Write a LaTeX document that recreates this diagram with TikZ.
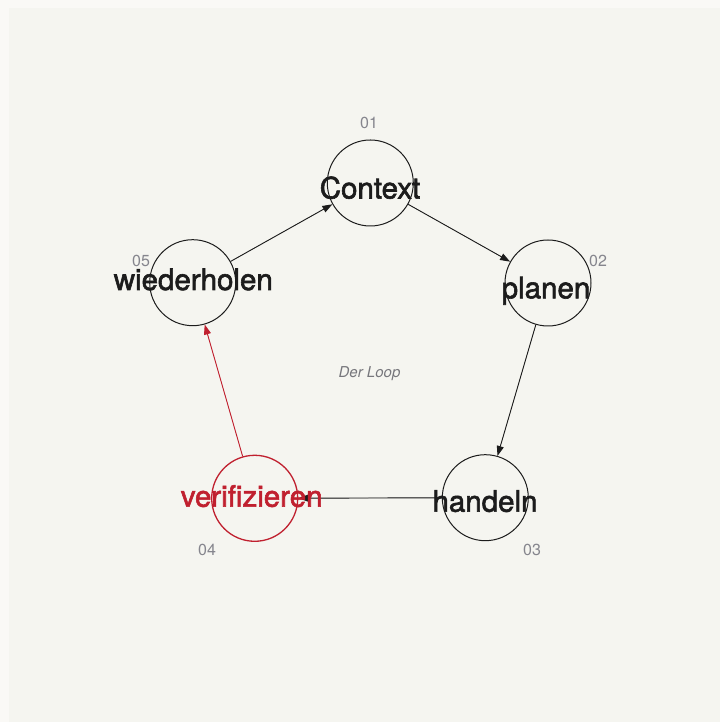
\documentclass[tikz,border=0pt]{standalone}
\usepackage{fontspec}
\setmainfont{TeX Gyre Heros}
\newfontfamily\stagefont[FakeBold=2]{TeX Gyre Heros}
\usetikzlibrary{arrows.meta}
\definecolor{outerbg}{HTML}{FAF9F6}
\definecolor{innerbg}{HTML}{F5F5F0}
\definecolor{ink}{HTML}{1C1C1C}
\definecolor{loopred}{HTML}{C0202F}
\definecolor{numgray}{HTML}{85858D}
\definecolor{capgray}{HTML}{77777C}
\tikzset{
  stage/.style={circle,draw=ink,line width=1pt,minimum size=86pt,inner sep=0pt},
  stagered/.style={stage,draw=loopred,line width=1.3pt},
  stagetext/.style={anchor=base,inner sep=0pt,text=ink,font=\stagefont\fontsize{29.5}{29.5}\selectfont},
  num/.style={inner sep=0pt,text=numgray,font=\fontsize{16}{16}\selectfont},
  flow/.style={draw=ink,line width=0.9pt,-{Triangle[length=10pt,width=7pt]}},
  flowred/.style={flow,draw=loopred,fill=loopred},
}
\begin{document}
\begin{tikzpicture}[x=1pt,y=1pt]
\useasboundingbox (0,0) rectangle (720,722);
\fill[outerbg] (0,0) rectangle (720,722);
\fill[innerbg] (9,0) rectangle (720,714);
% circles
\node[stage] (C) at (370.3,539) {};
\node[stage] (P) at (548,439) {};
\node[stage] (H) at (485.3,224.3) {};
\node[stagered] (V) at (254.7,223.7) {};
\node[stage] (W) at (192.7,439.3) {};
% connectors
\draw[flow,fill=ink] (C) -- (P);
\draw[flow,fill=ink] (P) -- (H);
\draw[flow,fill=ink] (H) -- (V);
\draw[flowred] (V) -- (W);
\draw[flow,fill=ink] (W) -- (C);
% texts
\node[stagetext] (Ct) at (370,523.5) {Context};
\node[stagetext] (Pt) at (546,423.7) {planen};
\node[stagetext] (Wt) at (193.3,432) {wiederholen};
\node[stagetext] (Ht) at (485,210.3) {handeln};
\node[stagetext,text=loopred] (Vt) at (251.7,215.3) {verifizieren};
% numbers
\node[num] (n1) at (369,599) {01};
\node[num] (n2) at (598,461) {02};
\node[num] (n3) at (532,172) {03};
\node[num] (n4) at (207,172) {04};
\node[num] (n5) at (141,461) {05};
\node[inner sep=0pt,text=capgray,font=\fontsize{15}{15}\selectfont\itshape] (lp) at (369.5,348) {Der Loop};
\end{tikzpicture}
\end{document}
